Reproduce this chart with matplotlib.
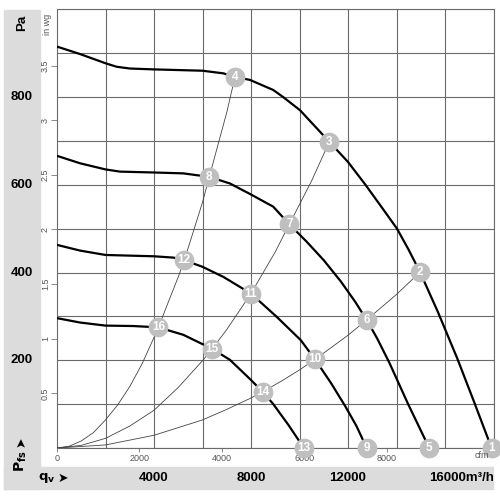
import matplotlib
matplotlib.use("Agg")
import matplotlib.pyplot as plt
from matplotlib.patches import Rectangle
import matplotlib.transforms as mtrans

plt.rcParams['font.family'] = ['Liberation Sans', 'DejaVu Sans']

# ---------------- data (flow in m3/h, pressure in Pa) ----------------
fan1_q = [0, 950, 2000, 2460, 3010, 4000, 6000, 6860, 7340, 7959, 8920, 9325, 10020,
          11230, 12000, 12720, 13400, 14020, 14500, 14970, 15700, 16500, 17200, 17920]
fan1_p = [915, 898, 877, 869, 865, 863, 860, 854, 846, 839, 816, 800, 770,
          698, 652, 600, 548, 500, 452, 401, 311, 205, 105, 0]

fan2_q = [0, 950, 2000, 2600, 4000, 5210, 6280, 7130, 7959, 8920, 9580, 10300, 11000,
          11700, 12300, 12770, 13200, 13700, 14480, 15350]
fan2_p = [666, 649, 635, 630, 628, 626, 618, 603, 579, 550, 510, 470, 428,
          380, 333, 292, 250, 195, 100, 0]

fan3_q = [0, 950, 2000, 4000, 4800, 5250, 6000, 6860, 8000, 9060, 10050, 10640, 11300,
          11900, 12350, 12770]
fan3_p = [463, 450, 440, 437, 434, 428, 413, 390, 352, 299, 246, 202, 148,
          94, 50, 0]

fan4_q = [0, 950, 2000, 3150, 4180, 5210, 6400, 7130, 8000, 8480, 8920, 9550, 10180]
fan4_p = [296, 286, 279, 278, 275, 258, 226, 201, 155, 128, 100, 52, 0]

sysA_q = [0, 500, 1000, 1500, 2000, 2500, 3000, 3500, 4000, 4180, 5000, 5250, 6000, 6280, 7000, 7340]
sysA_p = [0, 4, 16, 35, 64, 98, 140, 191, 252, 275, 390, 428, 560, 618, 765, 846]

sysB_q = [0, 1000, 2000, 3000, 4000, 5000, 6000, 6400, 7000, 8000, 9000, 9580, 10500, 11230]
sysB_p = [0, 6, 22, 50, 86, 138, 199, 226, 270, 352, 447, 510, 609, 698]

sysC_q = [0, 2000, 4000, 6000, 7000, 8000, 8480, 9300, 10000, 10640, 12000, 12770, 14000, 14970]
sysC_p = [0, 7, 29, 64, 88, 114, 128, 154, 178, 202, 257, 292, 350, 401]

# operating points: label, flow, pressure
point_labels = ['1', '2', '3', '4', '5', '6', '7', '8',
                '9', '10', '11', '12', '13', '14', '15', '16']
point_q = [17920, 14970, 11230, 7340, 15350, 12770, 9580, 6280,
           12770, 10640, 8000, 5250, 10180, 8480, 6400, 4180]
point_p = [0, 401, 698, 846, 0, 292, 510, 618,
           0, 202, 352, 428, 0, 128, 226, 275]

pa_ticks = [200, 400, 600, 800]
m3h_ticks = [4000, 8000, 12000]
inwg_ticks = [0.5, 1, 1.5, 2, 2.5, 3, 3.5]
inwg_labels = ['0.5', '1', '1.5', '2', '2.5', '3', '3.5']
cfm_ticks = [0, 2000, 4000, 6000, 8000]
cfm_labels = ['0', '2000', '4000', '6000', '8000']

PA_PER_INWG = 249.09
M3H_PER_CFM = 1.699

# ---------------- figure ----------------
fig = plt.figure(figsize=(5, 5), dpi=100)
W = H = 500.0

def fx(px):
    return px / W

def fy(py):
    return 1 - py / H

band = '#dcdcdc'
fig.patches.append(Rectangle((fx(4), fy(489)), fx(40) - fx(4), fy(10) - fy(489),
                             transform=fig.transFigure, color=band, zorder=-1))
fig.patches.append(Rectangle((fx(4), fy(489)), fx(493) - fx(4), fy(467) - fy(489),
                             transform=fig.transFigure, color=band, zorder=-1))

ax = fig.add_axes([fx(57), fy(448), (493.5 - 57) / W, (448 - 9.3) / H])
ax.set_xlim(0, 18000)
ax.set_ylim(0, 1000)

gridc = '#6a6a6a'
ax.set_xticks(range(0, 18001, 2000), minor=True)
ax.set_yticks(range(0, 1001, 100), minor=True)
ax.grid(True, which='minor', color=gridc, lw=0.8)
ax.tick_params(which='minor', length=0)
for s in ax.spines.values():
    s.set_color(gridc)
    s.set_linewidth(0.8)

ax.set_yticks([v * PA_PER_INWG for v in inwg_ticks])
ax.set_yticklabels(inwg_labels, rotation=90, va='center', fontsize=6.5, color='#555555')
ax.tick_params(axis='y', which='major', length=4, width=0.6, color='#777777', pad=1)
ax.set_xticks([v * M3H_PER_CFM for v in cfm_ticks])
ax.set_xticklabels(cfm_labels, fontsize=6.5, color='#555555')
ax.tick_params(axis='x', which='major', length=3, width=0.6, color='#777777', pad=1)

# system curves
for q, p in [(sysA_q, sysA_p), (sysB_q, sysB_p), (sysC_q, sysC_p)]:
    ax.plot(q, p, color='#444444', lw=0.6, zorder=3, solid_joinstyle='round')

# fan curves
for q, p in [(fan1_q, fan1_p), (fan2_q, fan2_p), (fan3_q, fan3_p), (fan4_q, fan4_p)]:
    ax.plot(q, p, color='black', lw=1.6, zorder=4, solid_capstyle='butt',
            solid_joinstyle='round')

# operating point markers
ax.plot(point_q, point_p, 'o', ms=14.2, color='#bfbfbf', mec='none', zorder=5, clip_on=False)
for lab, q, p in zip(point_labels, point_q, point_p):
    ax.text(q, p, lab, ha='center', va='center', color='white', fontsize=8.5,
            fontweight='bold', zorder=6, clip_on=False)

# Pa labels on the left band
tr_y = mtrans.blended_transform_factory(fig.transFigure, ax.transData)
for v in pa_ticks:
    fig.text(fx(22), v, str(v), transform=tr_y, ha='center', va='center',
             fontsize=9.5, fontweight='bold')

fig.text(fx(22), fy(23), 'Pa', rotation=90, ha='center', va='center',
         fontsize=9.5, fontweight='bold')
fig.text(fx(48), fy(24), 'in wg', rotation=90, ha='center', va='center',
         fontsize=6.5, color='#555555')

# Pfs label with arrow
fig.text(fx(21), fy(442), '\u27a4', rotation=90, ha='center', va='center',
         fontsize=9, family=['DejaVu Sans'])
fig.text(fx(21), fy(461), r'$\mathbf{P}_{\mathbf{fs}}$', rotation=90, ha='center',
         va='center', fontsize=10)

# bottom flow labels
tr_x = mtrans.blended_transform_factory(ax.transData, fig.transFigure)
for v in m3h_ticks:
    fig.text(v, fy(478), str(v), transform=tr_x, ha='center', va='center',
             fontsize=9.5, fontweight='bold')
fig.text(fx(429), fy(478), '16000m\u00b3/h', ha='left', va='center',
         fontsize=9.5, fontweight='bold')
fig.text(fx(38), fy(478), r'$\mathbf{q}_{\mathbf{v}}$', ha='left', va='center', fontsize=9.5)
fig.text(fx(63), fy(478), '\u27a4', ha='center', va='center', fontsize=9,
         family=['DejaVu Sans'])

fig.text(fx(482), fy(456), 'cfm', ha='center', va='center', fontsize=6.5, color='#555555')

fig.savefig('out.png', dpi=100)
